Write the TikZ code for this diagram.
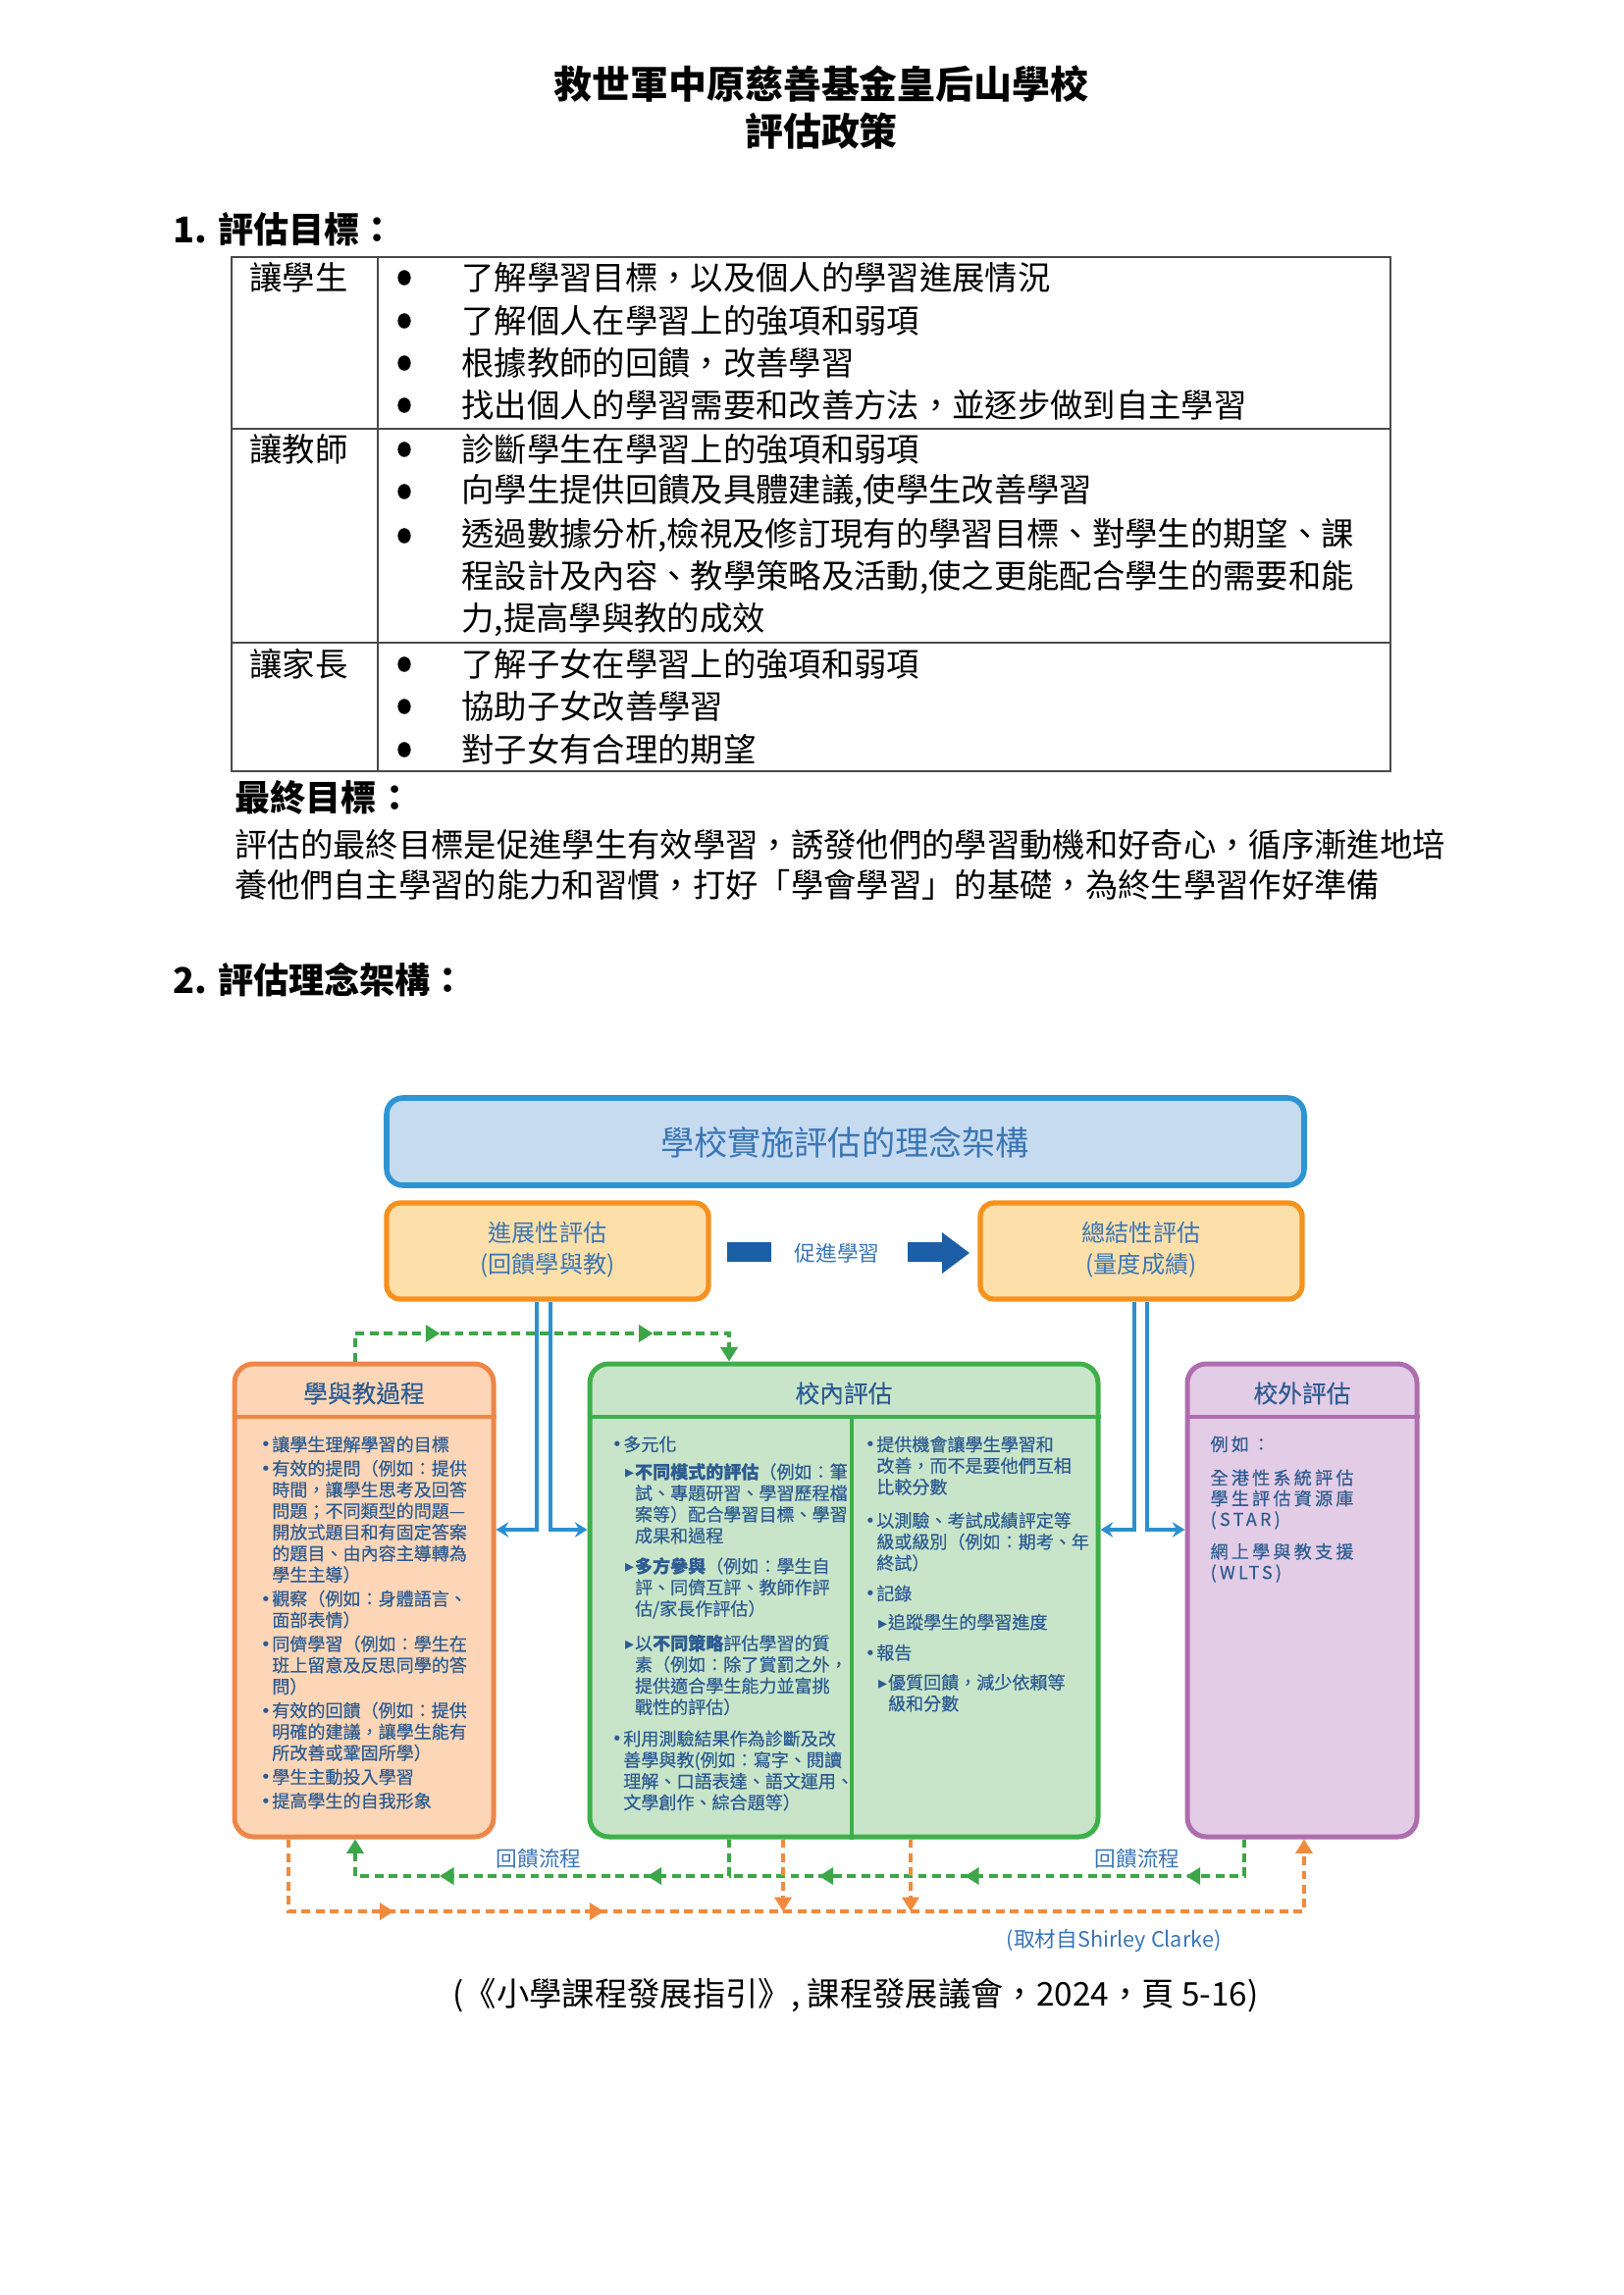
\documentclass[tikz,border=0pt]{standalone}
\usepackage{fontspec}
\setmainfont{Noto Sans CJK TC}
\newfontfamily\symfont{DejaVu Sans}
\usetikzlibrary{arrows.meta,fit,decorations.markings}

\definecolor{ttltext}{HTML}{3A76B5}
\definecolor{txblue}{HTML}{2D5C92}
\definecolor{ttlfill}{HTML}{C6DAF0}
\definecolor{ttldraw}{HTML}{2E95D3}
\definecolor{orfill}{HTML}{FDDFAA}
\definecolor{ordraw}{HTML}{F5921E}
\definecolor{lfill}{HTML}{FCD6B7}
\definecolor{ldraw}{HTML}{EE8648}
\definecolor{mfill}{HTML}{C9E5C9}
\definecolor{mdraw}{HTML}{3DB04B}
\definecolor{rfill}{HTML}{E3CCE5}
\definecolor{rdraw}{HTML}{AE6DAF}
\definecolor{darrow}{HTML}{1C5EA6}
\definecolor{lnblue}{HTML}{2C90CF}
\definecolor{dgreen}{HTML}{3DA648}
\definecolor{dorange}{HTML}{F08A3E}
\definecolor{rule}{HTML}{4A4A4A}

\newcommand{\bul}{\makebox[0.65em][l]{\symfont •}}
\newcommand{\ind}{\hspace*{0.65em}}
\newcommand{\subm}{\hspace*{0.75em}\makebox[0.55em][l]{\symfont ▸}}
\newcommand{\subi}{\hspace*{1.3em}}

\tikzset{
  tri/.tip={Triangle[length=5.2pt,width=6.2pt]},
  stl/.tip={Stealth[length=4.6pt,width=5.6pt,inset=1.6pt]},
  tipat/.style={postaction={decorate,decoration={markings,mark=at position #1 with {\arrow{tri}}}}},
  doc/.style={font=\fontsize{12}{15.6}\selectfont, anchor=west},
  hdg/.style={font=\fontsize{13}{15}\selectfont\bfseries, anchor=west},
  topbox/.style={fill=orfill, draw=ordraw, line width=1.9pt, rounded corners=5pt},
  toptext/.style={text=ttltext, align=center, font=\fontsize{8.7}{11.5}\selectfont},
  panel/.style 2 args={fill=#1, draw=#2, line width=1.8pt, rounded corners=7pt},
  hd/.style={text=txblue, font=\fontsize{8.9}{10}\selectfont\addfontfeature{FakeBold=0.4}},
  txt/.style={anchor=north west, align=left, text=txblue, font=\fontsize{6.5}{7.8}\selectfont\addfontfeature{FakeBold=0.5}},
  bline/.style={draw=lnblue, line width=1.2pt, -stl},
  gdash/.style={draw=dgreen, line width=1.1pt, dash pattern=on 3.2pt off 2pt},
  odash/.style={draw=dorange, line width=1.1pt, dash pattern=on 3.2pt off 2pt},
  note/.style={text=ttltext, font=\fontsize{7.8}{9}\selectfont}
}

\begin{document}
\begin{tikzpicture}[x=0.36pt, y=-0.36pt, every node/.style={inner sep=0pt}]
\fill[white] (0,0) rectangle (1654,2339);
\useasboundingbox (0,0) rectangle (1654,2339);

\node[font=\fontsize{14}{16}\selectfont\bfseries] (school) at (837,85) {救世軍中原慈善基金皇后山學校};
\node[font=\fontsize{14}{16}\selectfont\bfseries] (policy) at (837,134) {評估政策};

\node[hdg] (sec1) at (176,234) {1. 評估目標：};
\draw[rule, line width=0.9pt] (236,262) rectangle (1417,786);
\draw[rule, line width=0.9pt] (385,262) -- (385,786);
\draw[rule, line width=0.9pt] (236,437) -- (1417,437);
\draw[rule, line width=0.9pt] (236,655) -- (1417,655);
\foreach \y/\t in {283/讓學生, 458/讓教師, 677/讓家長}
  \node[doc] (who\y) at (254,\y) {\t};
\foreach \y in {283,327,370,413,458,501,546,677,720,764}
  \fill (412,\y) ellipse (2.4pt and 2.8pt);
\foreach \y/\t in {283/{了解學習目標，以及個人的學習進展情況},
    327/{了解個人在學習上的強項和弱項},
    370/{根據教師的回饋，改善學習},
    413/{找出個人的學習需要和改善方法，並逐步做到自主學習},
    458/{診斷學生在學習上的強項和弱項},
    501/{向學生提供回饋及具體建議,使學生改善學習},
    546/{透過數據分析,檢視及修訂現有的學習目標、對學生的期望、課},
    589/{程設計及內容、教學策略及活動,使之更能配合學生的需要和能},
    632/{力,提高學與教的成效},
    677/{了解子女在學習上的強項和弱項},
    720/{協助子女改善學習},
    764/{對子女有合理的期望}}
  \node[doc] (ln\y) at (470,\y) {\t};

\node[hdg] (goal) at (239,813) {最終目標：};
\node[doc] (goal1) at (239,861) {評估的最終目標是促進學生有效學習，誘發他們的學習動機和好奇心，循序漸進地培};
\node[doc] (goal2) at (239,902) {養他們自主學習的能力和習慣，打好「學會學習」的基礎，為終生學習作好準備};

\node[hdg] (sec2) at (176,999) {2. 評估理念架構：};

\node[fill=ttlfill, draw=ttldraw, line width=2pt, rounded corners=6pt, fit={(394,1119) (1329,1208)}] (ttl) {};
\node[text=ttltext, font=\fontsize{12.3}{14}\selectfont] (ttltxt) at (861,1164) {學校實施評估的理念架構};
\node[topbox, fit={(394,1226) (722,1324)}] (fbox) {};
\node[topbox, fit={(999,1226) (1327,1324)}] (sbox) {};
\node[toptext] (ftxt) at (558,1274) {進展性評估\\(回饋學與教)};
\node[toptext] (stxt) at (1163,1274) {總結性評估\\(量度成績)};
\fill[darrow] (741,1266) rectangle (786,1286);
\node[note] (promo) at (853,1277) {促進學習};
\fill[darrow] (925,1266) -- (960,1266) -- (960,1256) -- (988,1277) -- (960,1298) -- (960,1286) -- (925,1286) -- cycle;

\node[panel={lfill}{ldraw}, fit={(239,1390) (503,1872)}] (lbox) {};
\node[panel={mfill}{mdraw}, fit={(601,1390) (1119,1872)}] (mbox) {};
\node[panel={rfill}{rdraw}, fit={(1210,1390) (1444,1872)}] (rbox) {};
\draw[ldraw, line width=1.5pt] (lbox.west |- 0,1444) -- (lbox.east |- 0,1444);
\draw[mdraw, line width=1.5pt] (mbox.west |- 0,1444) -- (mbox.east |- 0,1444);
\draw[mdraw, line width=1.5pt] (868,1444) -- (mbox.south -| 868,0);
\draw[rdraw, line width=1.5pt] (rbox.west |- 0,1444) -- (rbox.east |- 0,1444);
\node[hd] (lhead) at (371,1420) {學與教過程};
\node[hd] (mhead) at (860,1420) {校內評估};
\node[hd] (rhead) at (1327,1420) {校外評估};

\node[txt] (ltext) at (265,1463) {\bul 讓學生理解學習的目標\\[1pt]
\bul 有效的提問（例如：提供\\
\ind 時間，讓學生思考及回答\\
\ind 問題；不同類型的問題—\\
\ind 開放式題目和有固定答案\\
\ind 的題目、由內容主導轉為\\
\ind 學生主導）\\[1pt]
\bul 觀察（例如：身體語言、\\
\ind 面部表情）\\[1pt]
\bul 同儕學習（例如：學生在\\
\ind 班上留意及反思同學的答\\
\ind 問）\\[1pt]
\bul 有效的回饋（例如：提供\\
\ind 明確的建議，讓學生能有\\
\ind 所改善或鞏固所學）\\[1pt]
\bul 學生主動投入學習\\[1pt]
\bul 提高學生的自我形象};

\node[txt] (mtextl) at (623,1463) {\bul 多元化\\[2.3pt]
\subm \textbf{不同模式的評估}（例如：筆\\
\subi 試、專題研習、學習歷程檔\\
\subi 案等）配合學習目標、學習\\
\subi 成果和過程\\[3.4pt]
\subm \textbf{多方參與}（例如：學生自\\
\subi 評、同儕互評、教師作評\\
\subi 估/家長作評估）\\[4.9pt]
\subm 以\textbf{不同策略}評估學習的質\\
\subi 素（例如：除了賞罰之外，\\
\subi 提供適合學生能力並富挑\\
\subi 戰性的評估）\\[3.8pt]
\bul 利用測驗結果作為診斷及改\\
\ind 善學與教(例如：寫字、閱讀\\
\ind 理解、口語表達、語文運用、\\
\ind 文學創作、綜合題等）};

\node[txt] (mtextr) at (881,1463) {\bul 提供機會讓學生學習和\\
\ind 改善，而不是要他們互相\\
\ind 比較分數\\[4.5pt]
\bul 以測驗、考試成績評定等\\
\ind 級或級別（例如：期考、年\\
\ind 終試）\\[3.4pt]
\bul 記錄\\[2.7pt]
\subm 追蹤學生的學習進度\\[3.4pt]
\bul 報告\\[3.1pt]
\subm 優質回饋，減少依賴等\\
\subi 級和分數};

\node[txt, font=\fontsize{6.5}{7.6}\selectfont\addfontfeature{LetterSpace=18,FakeBold=0.5}] (rtext) at (1233,1463) {例如：\\[4.7pt]
全港性系統評估\\
學生評估資源庫\\
(STAR)\\[4.3pt]
網上學與教支援\\
(WLTS)};

\coordinate (b1) at (547,1559);
\coordinate (b2) at (561,1559);
\coordinate (b3) at (1156,1559);
\coordinate (b4) at (1169,1559);
\draw[bline] (b1 |- fbox.south) -- (b1) -- (b1 -| lbox.east);
\draw[bline] (b2 |- fbox.south) -- (b2) -- (b2 -| mbox.west);
\draw[bline] (b3 |- sbox.south) -- (b3) -- (b3 -| mbox.east);
\draw[bline] (b4 |- sbox.south) -- (b4) -- (b4 -| rbox.west);

\coordinate (ga) at (362,1359);
\coordinate (gb) at (743,1359);
\coordinate (gc) at (743,1912);
\coordinate (gd) at (362,1912);
\coordinate (ge) at (1268,1912);
\coordinate (oa) at (294,1948);
\coordinate (ob) at (1329,1948);
\coordinate (oc) at (798,1948);
\coordinate (od) at (928,1948);
\draw[gdash, -tri, tipat/.list={0.262,0.758}] (ga |- lbox.north) -- (ga) -- (gb) -- (gb |- mbox.north);
\draw[gdash, -tri, tipat/.list={0.265,0.729}] (gc |- mbox.south) -- (gc) -- (gd) -- (gd |- lbox.south);
\draw[gdash, tipat/.list={0.172,0.573,0.837}] (ge |- rbox.south) -- (ge) -- (gc);
\draw[odash, -tri, tipat/.list={0.153,0.334}] (oa |- lbox.south) -- (oa) -- (ob) -- (ob |- rbox.south);
\draw[odash, -tri] (oc |- mbox.south) -- (oc);
\draw[odash, -tri] (od |- mbox.south) -- (od);
\node[note] (fb1) at (549,1894) {回饋流程};
\node[note] (fb2) at (1159,1894) {回饋流程};
\node[note, anchor=east] (src) at (1245,1978) {(取材自Shirley Clarke)};

\node[font=\fontsize{12}{15}\selectfont] (cite) at (872,2034) {(《小學課程發展指引》, 課程發展議會，2024，頁 5-16)};
\end{tikzpicture}
\end{document}
